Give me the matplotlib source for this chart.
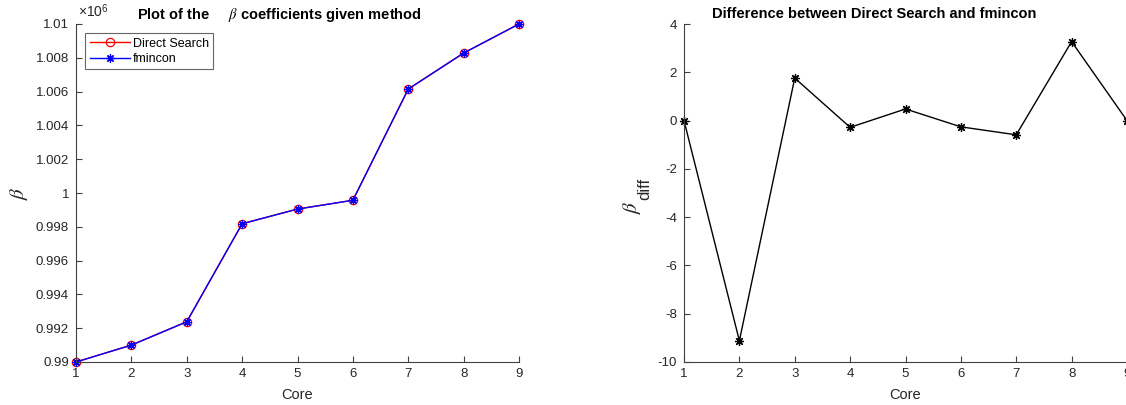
import numpy as np
import matplotlib
matplotlib.use("Agg")
import matplotlib.pyplot as plt
from matplotlib.ticker import FuncFormatter

# data
core = [1, 2, 3, 4, 5, 6, 7, 8, 9]
beta_direct = [990000, 991000, 992380, 998180, 999050, 999570, 1006150, 1008280, 1010000]
beta_fmincon = [990000, 991000, 992380, 998180, 999050, 999570, 1006150, 1008280, 1010000]
beta_diff = [0, -9.12, 1.76, -0.28, 0.48, -0.26, -0.59, 3.27, 0]

plt.rcParams['font.family'] = ['Liberation Sans', 'DejaVu Sans']
plt.rcParams['mathtext.fontset'] = 'custom'
plt.rcParams['mathtext.rm'] = 'Liberation Sans'
plt.rcParams['mathtext.sf'] = 'Liberation Sans'
plt.rcParams['mathtext.it'] = 'STIXGeneral:italic'
plt.rcParams['mathtext.bf'] = 'Liberation Sans:bold'
plt.rcParams['axes.unicode_minus'] = False
txt = '#262626'
ax_col = '#404040'

W, H = 1126, 405
fig = plt.figure(figsize=(W/100, H/100), dpi=100)
ax_1 = fig.add_axes([76/W, 43/H, 443/W, 338/H])
ax_2 = fig.add_axes([684/W, 43/H, 443/W, 338/H])

def style(ax):
    for s in ['top', 'right']:
        ax.spines[s].set_visible(False)
    for s in ['left', 'bottom']:
        ax.spines[s].set_color(ax_col)
        ax.spines[s].set_linewidth(0.8)
    ax.tick_params(direction='in', length=4, width=0.8, colors=ax_col,
                   labelcolor=txt, labelsize=9.5)
    ax.tick_params(axis='x', pad=4)
    ax.tick_params(axis='y', pad=5)
    ax.set_xticks(core)
    ax.set_xlim(1, 9)
    ax.set_xlabel("Core", fontsize=10.5, color=txt, labelpad=6)

# left: beta values
scale = 1e6
ax_1.plot(core, np.array(beta_direct)/scale, '-o', color='red', lw=1, ms=6,
          mfc='none', mew=0.9, label='Direct Search', clip_on=False)
ax_1.plot(core, np.array(beta_fmincon)/scale, '-', color='blue', lw=1,
          marker=(8, 2, 0), ms=6, mew=0.9, label='fmincon', clip_on=False)
style(ax_1)
ax_1.set_ylim(0.99, 1.01)
ax_1.set_yticks(np.arange(0.99, 1.0101, 0.002))
ax_1.yaxis.set_major_formatter(FuncFormatter(lambda v, p: '%g' % round(v, 4)))
ax_1.set_ylabel(r'$\beta$', fontsize=15, color=txt, labelpad=4)
fig.text(279/W, 1 - 18.5/H, r'Plot of the     $\beta$ coefficients given method',
         fontsize=10.5, fontweight='bold', color='black', ha='center', va='baseline')
ax_1.text(0.005, 1.012, r'$\times10^{6}$', transform=ax_1.transAxes, fontsize=10,
          color=txt, ha='left', va='bottom')
leg = ax_1.legend(loc='upper left', fontsize=9, frameon=True, fancybox=False,
                  edgecolor=ax_col, borderpad=0.35, handlelength=3.2,
                  handletextpad=0.25, labelspacing=0.25, borderaxespad=0.75)
leg.get_frame().set_linewidth(0.8)

# right: difference
ax_2.plot(core, beta_diff, '-', color='black', lw=1, marker=(8, 2, 0), ms=6.5,
          mew=0.9, clip_on=False)
style(ax_2)
ax_2.set_ylim(-10, 4)
ax_2.set_yticks(np.arange(-10, 5, 2))
# y label: beta with a large "diff" subscript, as in the original
fig.text(632/W, 1 - 207/H, r'$\beta$', fontsize=15, color=txt, rotation=90,
         ha='center', va='center')
fig.text(645/W, 1 - 189/H, 'diff', fontsize=12, color=txt, rotation=90,
         ha='center', va='center')
fig.text(874/W, 1 - 18.5/H, 'Difference between Direct Search and fmincon',
         fontsize=10.5, fontweight='bold', color='black', ha='center', va='baseline')

plt.savefig("out.png", dpi=100)
